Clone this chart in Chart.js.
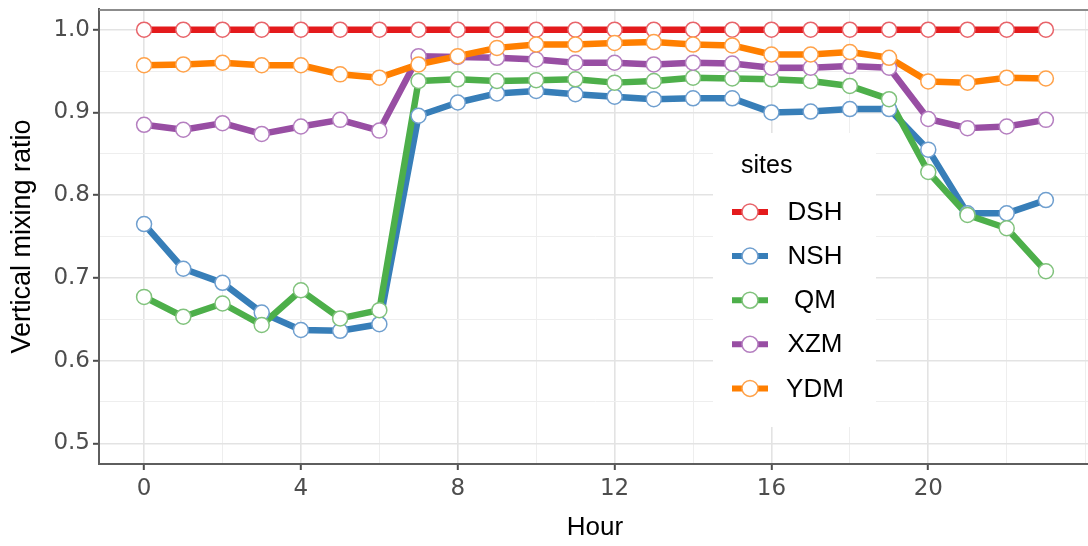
<!DOCTYPE html>
<html><head><meta charset="utf-8">
<script src="https://cdn.jsdelivr.net/npm/chart.js@4.4.1/dist/chart.umd.min.js"></script>
<style>
html,body{margin:0;padding:0;background:#fff;overflow:hidden;width:1088px;height:546px}
#wrap{position:absolute;left:0;top:0;width:1100px;height:546px}
</style>
</head><body><div id="wrap"><canvas id="c" width="1100" height="546"></canvas></div>
<script>
const hours = [0,1,2,3,4,5,6,7,8,9,10,11,12,13,14,15,16,17,18,19,20,21,22,23];
const siteNames = ['DSH','NSH','QM','XZM','YDM'];
const DSH = [1.0,1.0,1.0,1.0,1.0,1.0,1.0,1.0,1.0,1.0,1.0,1.0,1.0,1.0,1.0,1.0,1.0,1.0,1.0,1.0,1.0,1.0,1.0,1.0];
const NSH = [0.765,0.711,0.694,0.658,0.637,0.636,0.644,0.896,0.912,0.923,0.926,0.922,0.919,0.916,0.917,0.917,0.900,0.901,0.904,0.904,0.855,0.778,0.778,0.794];
const QM  = [0.677,0.653,0.669,0.643,0.685,0.651,0.661,0.938,0.940,0.938,0.939,0.940,0.936,0.938,0.942,0.941,0.940,0.938,0.932,0.916,0.828,0.776,0.760,0.708];
const XZM = [0.885,0.879,0.887,0.874,0.883,0.891,0.878,0.968,0.967,0.966,0.964,0.960,0.960,0.958,0.960,0.959,0.954,0.954,0.956,0.954,0.892,0.881,0.883,0.891];
const YDM = [0.957,0.958,0.960,0.957,0.957,0.946,0.942,0.958,0.968,0.978,0.982,0.982,0.984,0.985,0.982,0.981,0.970,0.970,0.973,0.966,0.9375,0.936,0.942,0.941];
const xTickValues = [0,2,4,6,8,10,12,14,16,18,20,22,24];
const xMajorTicks = [0,4,8,12,16,20];
const yTickValues = [0.5,0.55,0.6,0.65,0.7,0.75,0.8,0.85,0.9,0.95,1.0];
const yMajorTicks = [0.5,0.6,0.7,0.8,0.9,1.0];

const series = [DSH, NSH, QM, XZM, YDM];
const lineColors = ['#e41a1c','#377eb8','#4daf4a','#984ea3','#ff7f00'];
const ringColors = ['#e8646a','#6f9fcf','#80c27c','#b57fc0','#ffa24a'];

const isXMajor = v => xMajorTicks.some(m => Math.abs(m - v) < 1e-6);
const isYMajor = v => yMajorTicks.some(m => Math.abs(m - v) < 1e-6);

const datasets = [];
series.forEach((s, i) => {
  const pts = hours.map((h, j) => ({x: h, y: s[j]}));
  datasets.push({label: siteNames[i], data: pts, borderColor: lineColors[i], borderWidth: 6.5,
    pointRadius: 0, pointHoverRadius: 0, fill: false, tension: 0, borderJoinStyle: 'round', borderCapStyle: 'round', order: 20 - i});
  datasets.push({label: siteNames[i] + ' points', data: pts, showLine: false, pointRadius: 7.5, pointHoverRadius: 7.5,
    pointBorderWidth: 1.5, pointBackgroundColor: '#ffffff', pointBorderColor: ringColors[i], order: 10 - i});
});

const legendPlugin = {
  id: 'sitesLegend',
  beforeDatasetsDraw(chart) {
    const {ctx, chartArea} = chart;
    ctx.save();
    ctx.strokeStyle = '#8c8c8c'; ctx.lineWidth = 2;
    ctx.beginPath(); ctx.moveTo(chartArea.left, chartArea.top + 1); ctx.lineTo(chartArea.right, chartArea.top + 1); ctx.stroke();
    ctx.fillStyle = '#ffffff';
    ctx.fillRect(713, 133, 163, 294);
    ctx.fillStyle = '#000'; ctx.font = '25px "Liberation Sans", Arial, sans-serif';
    ctx.textAlign = 'left'; ctx.textBaseline = 'alphabetic';
    ctx.fillText('sites', 741, 173);
    siteNames.forEach((n, i) => {
      const y = 212 + i * 44.1;
      ctx.strokeStyle = lineColors[i]; ctx.lineWidth = 6; ctx.lineCap = 'butt';
      ctx.beginPath(); ctx.moveTo(732, y); ctx.lineTo(768, y); ctx.stroke();
      ctx.beginPath(); ctx.arc(750, y, 8, 0, Math.PI * 2);
      ctx.fillStyle = '#fff'; ctx.fill();
      ctx.lineWidth = 1.5; ctx.strokeStyle = ringColors[i]; ctx.stroke();
      ctx.fillStyle = '#000'; ctx.font = '26px "Liberation Sans", Arial, sans-serif';
      ctx.textAlign = 'center'; ctx.textBaseline = 'middle';
      ctx.fillText(n, 815, y + 1);
    });
    ctx.restore();
  }
};

new Chart(document.getElementById('c'), {
  type: 'line',
  data: {datasets},
  options: {
    responsive: false, animation: false, devicePixelRatio: 1,
    layout: {padding: {top: 6, right: 7, left: 0, bottom: 0}},
    plugins: {legend: {display: false}, tooltip: {enabled: false}},
    events: [],
    scales: {
      x: {
        type: 'linear', min: -1.15, max: 24.15,
        afterBuildTicks: s => { s.ticks = xTickValues.map(v => ({value: v})); },
        afterFit: s => { s.height = 82; s.paddingLeft = 0; s.paddingRight = 0; },
        ticks: {autoSkip: false, maxRotation: 0, padding: 5, color: '#4d4d4d',
          font: {family: '"DejaVu Sans", sans-serif', size: 23},
          callback: v => isXMajor(v) ? String(v) : ''},
        grid: {
          color: c => isXMajor(c.tick.value) ? '#e3e3e3' : '#eeeeee',
          lineWidth: c => isXMajor(c.tick.value) ? 1.6 : 1,
          tickColor: c => isXMajor(c.tick.value) ? '#4d4d4d' : 'rgba(0,0,0,0)',
          tickLength: 6, tickWidth: 2
        },
        border: {display: true, color: '#5e5e5e', width: 2},
        title: {display: true, text: 'Hour', color: '#000', padding: {top: 0, bottom: 3},
          font: {family: '"Liberation Sans", Arial, sans-serif', size: 26}}
      },
      y: {
        type: 'linear', min: 0.475, max: 1.025,
        afterBuildTicks: s => { s.ticks = yTickValues.map(v => ({value: v})); },
        afterFit: s => { s.width = 99; s.paddingTop = 0; s.paddingBottom = 0; },
        ticks: {autoSkip: false, padding: 3, color: '#4d4d4d',
          font: {family: '"DejaVu Sans", sans-serif', size: 23},
          callback: v => isYMajor(v) ? v.toFixed(1) : ''},
        grid: {
          color: c => isYMajor(c.tick.value) ? '#e3e3e3' : '#eeeeee',
          lineWidth: c => isYMajor(c.tick.value) ? 1.6 : 1,
          tickColor: c => isYMajor(c.tick.value) ? '#4d4d4d' : 'rgba(0,0,0,0)',
          tickLength: 6, tickWidth: 2
        },
        border: {display: true, color: '#5e5e5e', width: 2},
        title: {display: true, text: 'Vertical mixing ratio', color: '#000', padding: {top: 6, bottom: 0},
          font: {family: '"Liberation Sans", Arial, sans-serif', size: 27}}
      }
    }
  },
  plugins: [legendPlugin]
});
</script>
</body></html>
